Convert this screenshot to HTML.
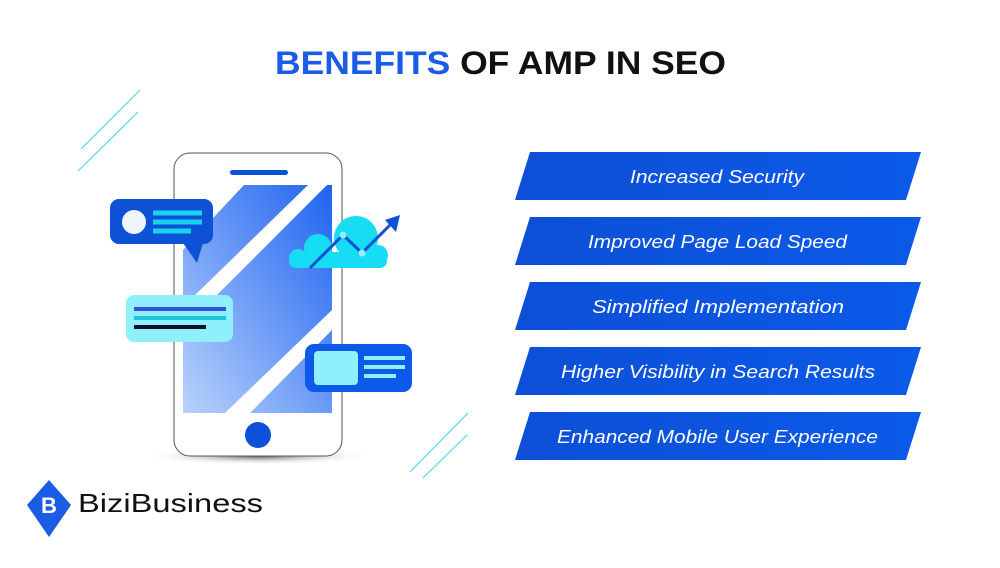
<!DOCTYPE html>
<html><head><meta charset="utf-8"><style>
body{margin:0;width:1000px;height:563px;background:#fff;overflow:hidden;font-family:"Liberation Sans",sans-serif}
</style></head><body>
<svg width="1000" height="563" viewBox="0 0 1000 563" xmlns="http://www.w3.org/2000/svg">
<defs>
<linearGradient id="sc" x1="1" y1="0" x2="0" y2="1"><stop offset="0" stop-color="#1f63f0"/><stop offset="1" stop-color="#b8d2fb"/></linearGradient>
<linearGradient id="bn" x1="0" y1="0" x2="1" y2="0"><stop offset="0" stop-color="#0d4fd6"/><stop offset="1" stop-color="#0a5ae8"/></linearGradient>
<radialGradient id="sh" cx="0.5" cy="0.5" r="0.5"><stop offset="0" stop-color="#333" stop-opacity="0.8"/><stop offset="1" stop-color="#fff" stop-opacity="0"/></radialGradient>
</defs>
<text x="275" y="74" textLength="451" lengthAdjust="spacingAndGlyphs" font-family="Liberation Sans" font-weight="bold" font-size="32" fill="#111"><tspan fill="#1a5ce6">BENEFITS</tspan> OF AMP IN SEO</text>
<g stroke="#6fe0f0" stroke-width="1.5">
<line x1="140" y1="90" x2="81" y2="149"/><line x1="138" y1="112" x2="78" y2="171"/>
<line x1="468" y1="413" x2="410" y2="472"/><line x1="467" y1="435" x2="423" y2="478"/>
</g>
<ellipse cx="258" cy="456" rx="115" ry="9" fill="url(#sh)"/>
<rect x="174" y="153" width="168" height="303" rx="16" fill="#fff" stroke="#555" stroke-width="1"/>
<rect x="230" y="170" width="58" height="5" rx="2.5" fill="#0d52d6"/>
<circle cx="258" cy="435" r="13" fill="#0d52d6"/>
<polygon points="244,185 332,185 332,413 183,413 183,250" fill="url(#sc)"/>
<polygon points="308,185 327,185 200,312 190,300" fill="#fff"/>
<polygon points="332,310 332,330 250,413 225,413" fill="#fff"/>
<rect x="110" y="199" width="103" height="45" rx="9" fill="#0d52d6"/>
<polygon points="183,243 203,243 197,263" fill="#0d52d6"/>
<circle cx="134" cy="222" r="12" fill="#eef6fb"/>
<g stroke="#18d2ee" stroke-width="5"><line x1="153" y1="213" x2="202" y2="213"/><line x1="153" y1="222" x2="202" y2="222"/><line x1="153" y1="231" x2="191" y2="231"/></g>
<rect x="126" y="295" width="107" height="47" rx="8" fill="#8ff0fb"/>
<line x1="134" y1="309" x2="226" y2="309" stroke="#3a4ce0" stroke-width="4"/>
<line x1="134" y1="318" x2="226" y2="318" stroke="#1ec4d4" stroke-width="4"/>
<line x1="134" y1="327" x2="206" y2="327" stroke="#0a0f2a" stroke-width="4"/>
<rect x="305" y="344" width="107" height="48" rx="9" fill="#0d5ae8"/>
<rect x="314" y="351" width="44" height="34" rx="4" fill="#8ff0fb"/>
<g stroke="#8ff0fb" stroke-width="4"><line x1="364" y1="358" x2="405" y2="358"/><line x1="364" y1="367" x2="405" y2="367"/><line x1="364" y1="376" x2="396" y2="376"/></g>
<g fill="#16dcf4">
<circle cx="318" cy="248" r="14"/><circle cx="356" cy="238" r="22"/><circle cx="378" cy="255" r="10"/><circle cx="298" cy="258" r="9"/>
<rect x="289" y="252" width="98" height="16" rx="7"/>
</g>
<polyline points="310,268 343,235 362,253 392,223" fill="none" stroke="#0d52d6" stroke-width="3"/>
<polygon points="400,215 385,220 396,232" fill="#0d52d6"/>
<circle cx="343" cy="235" r="3.5" fill="#8ff0fb"/><circle cx="362" cy="253" r="3.5" fill="#8ff0fb"/>
<g font-family="Liberation Sans" font-style="italic" font-size="18" fill="#fff">
<polygon points="530,152 921,152 906,200 515,200" fill="url(#bn)"/><text x="630" y="183" textLength="174" lengthAdjust="spacingAndGlyphs">Increased Security</text>
<polygon points="530,217 921,217 906,265 515,265" fill="url(#bn)"/><text x="588" y="248" textLength="259" lengthAdjust="spacingAndGlyphs">Improved Page Load Speed</text>
<polygon points="530,282 921,282 906,330 515,330" fill="url(#bn)"/><text x="592" y="313" textLength="252" lengthAdjust="spacingAndGlyphs">Simplified Implementation</text>
<polygon points="530,347 921,347 906,395 515,395" fill="url(#bn)"/><text x="561" y="378" textLength="314" lengthAdjust="spacingAndGlyphs">Higher Visibility in Search Results</text>
<polygon points="530,412 921,412 906,460 515,460" fill="url(#bn)"/><text x="557" y="443" textLength="321" lengthAdjust="spacingAndGlyphs">Enhanced Mobile User Experience</text>
</g>
<polygon points="49,480 71,505 49,537 27,505" fill="#1a5ce6"/>
<text x="49" y="513" text-anchor="middle" font-family="Liberation Sans" font-weight="bold" font-size="22" fill="#fff">B</text>
<text x="78" y="512" textLength="185" lengthAdjust="spacingAndGlyphs" font-family="Liberation Sans" font-size="26" fill="#111">BiziBusiness</text>
</svg>
</body></html>
